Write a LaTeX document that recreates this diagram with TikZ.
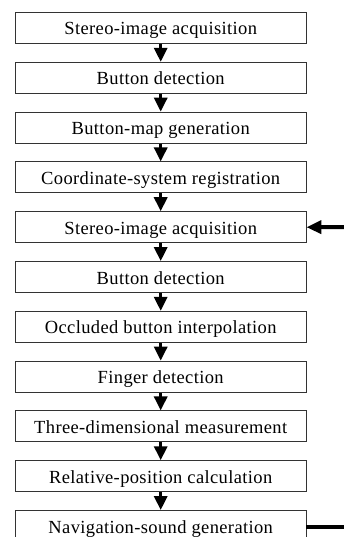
\documentclass[tikz,border=0pt]{standalone}
\usepackage{fontspec}
\setmainfont{Liberation Serif}[LetterSpace=2]
\usetikzlibrary{arrows.meta}
\begin{document}
\begin{tikzpicture}[x=1pt,y=-1pt,
  stepbox/.style={draw=black!80,line width=0.9pt,minimum width=290.5pt,minimum height=31pt,inner sep=0pt,text height=17pt,text depth=3pt,font=\fontsize{18.5}{21}\selectfont},
  flow/.style={line width=3.2pt,-{Triangle[width=13pt,length=14pt]}},
  side/.style={line width=4pt}]
\useasboundingbox (0,0) rectangle (344,537);
\clip (0,0) rectangle (344,537);
\foreach \t [count=\i from 0] in {Stereo-image acquisition,Button detection,Button-map generation,Coordinate-system registration,Stereo-image acquisition,Button detection,Occluded button interpolation,Finger detection,Three-dimensional measurement,Relative-position calculation,Navigation-sound generation}{
  \node[stepbox] (b\i) at (160.7,{28+49.8*\i}) {\t};
}
\foreach \i [evaluate=\i as \j using int(\i+1)] in {0,...,9}{
  \draw[flow] (b\i.south) -- (b\j.north);
}
\coordinate (inA) at (344,227);
\coordinate (outB) at (344,527);
\draw[side,-{Triangle[width=13pt,length=15pt]}] (inA) -- (b4.east);
\draw[side] (b10.east |- outB) -- (outB);
\end{tikzpicture}
\end{document}
